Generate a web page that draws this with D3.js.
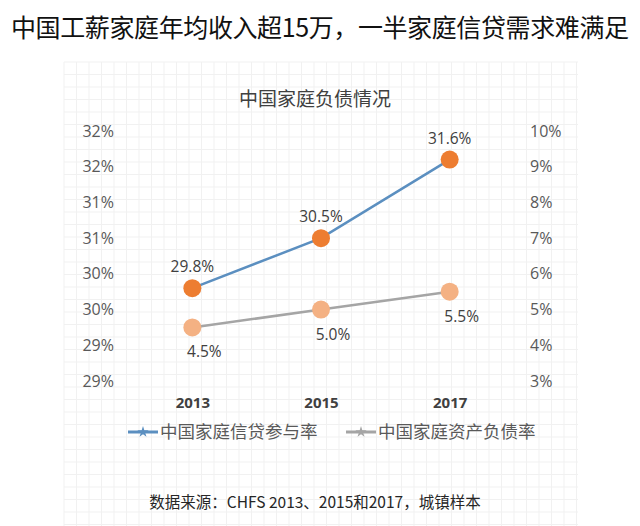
<!DOCTYPE html>
<html>
<head>
<meta charset="utf-8">
<script src="https://cdn.jsdelivr.net/npm/d3@7"></script>
<style>
    body { margin: 0; background: #fff; }
    svg { display: block; font-family: "Noto Sans CJK SC", "Noto Sans", sans-serif; }
</style>
</head>
<body>
<svg id="chart"></svg>
<script>
const years = ["2013", "2015", "2017"];
const creditRate = [29.8, 30.5, 31.6];   // 中国家庭信贷参与率, left axis
const debtRatio = [4.5, 5.0, 5.5];       // 中国家庭资产负债率, right axis
const leftTicks = [28.5, 29, 29.5, 30, 30.5, 31, 31.5, 32];
const leftTickLabels = ["29%", "29%", "30%", "30%", "31%", "31%", "32%", "32%"];
const rightTicks = [3, 4, 5, 6, 7, 8, 9, 10];
const seriesNames = ["中国家庭信贷参与率", "中国家庭资产负债率"];

const width = 640;
const height = 526;

const svg = d3.select("#chart")
    .attr("width", width)
    .attr("height", height);

/*page headline*/
svg.append("text")
    .attr("x", 320)
    .attr("y", 37)
    .attr("text-anchor", "middle")
    .attr("font-size", 25)
    .attr("textLength", 618)
    .attr("fill", "#111")
    .text("中国工薪家庭年均收入超15万，一半家庭信贷需求难满足");

/*grid paper behind the chart*/
const paper = { left: 64, right: 578, top: 62, bottom: 526 };
const grid = svg.append("g");
for (let gx = paper.left; gx <= paper.right; gx += 12.5) {
    grid.append("line")
        .attr("x1", gx).attr("x2", gx)
        .attr("y1", paper.top).attr("y2", paper.bottom)
        .attr("stroke", "#f1f1f1");
}
for (let gy = paper.top; gy <= paper.bottom; gy += 12.5) {
    grid.append("line")
        .attr("x1", paper.left).attr("x2", paper.right)
        .attr("y1", gy).attr("y2", gy)
        .attr("stroke", "#f1f1f1");
}

svg.append("text")
    .attr("x", 315)
    .attr("y", 106)
    .attr("text-anchor", "middle")
    .attr("font-size", 19)
    .attr("fill", "#404040")
    .text("中国家庭负债情况");

const x = d3.scalePoint()
    .domain(years)
    .range([128, 514])
    .padding(0.5);

const yLeft = d3.scaleLinear()
    .domain([28.5, 32])
    .range([381, 131]);

const yRight = d3.scaleLinear()
    .domain([3, 10])
    .range([381, 131]);

const numFont = "'Open Sans', 'Noto Sans', sans-serif";

const axisFont = (g) => {
    g.select(".domain").remove();
    g.selectAll(".tick line").remove();
    g.selectAll("text")
        .attr("font-size", 16)
        .attr("fill", "#595959")
        .attr("font-family", numFont);
};

svg.append("g")
    .attr("transform", "translate(114,0)")
    .call(d3.axisLeft(yLeft).tickValues(leftTicks).tickSize(0).tickPadding(0)
        .tickFormat((d, i) => leftTickLabels[i]))
    .call(axisFont);

svg.append("g")
    .attr("transform", "translate(530,0)")
    .call(d3.axisRight(yRight).tickValues(rightTicks).tickSize(0).tickPadding(0)
        .tickFormat((d) => d + "%"))
    .call(axisFont);

svg.append("g")
    .attr("transform", "translate(0,397)")
    .call(d3.axisBottom(x).tickSize(0).tickPadding(0))
    .call(axisFont)
    .call((g) => g.selectAll("text").attr("font-size", 15).attr("font-weight", "bold").attr("fill", "#404040"));

const creditData = years.map((y, i) => ({ year: y, value: creditRate[i] }));
const debtData = years.map((y, i) => ({ year: y, value: debtRatio[i] }));

svg.append("path")
    .datum(debtData)
    .attr("fill", "none")
    .attr("stroke", "#a5a5a5")
    .attr("stroke-width", 2.5)
    .attr("d", d3.line().x((d) => x(d.year)).y((d) => yRight(d.value)));

svg.append("path")
    .datum(creditData)
    .attr("fill", "none")
    .attr("stroke", "#5b8fc0")
    .attr("stroke-width", 2.5)
    .attr("d", d3.line().x((d) => x(d.year)).y((d) => yLeft(d.value)));

svg.selectAll(".debt-dot")
    .data(debtData)
    .enter().append("circle")
    .attr("cx", (d) => x(d.year))
    .attr("cy", (d) => yRight(d.value))
    .attr("r", 9)
    .attr("fill", "#f4b183");

svg.selectAll(".credit-dot")
    .data(creditData)
    .enter().append("circle")
    .attr("cx", (d) => x(d.year))
    .attr("cy", (d) => yLeft(d.value))
    .attr("r", 9)
    .attr("fill", "#ed7d31");

svg.selectAll(".credit-label")
    .data(creditData)
    .enter().append("text")
    .attr("x", (d) => x(d.year))
    .attr("y", (d) => yLeft(d.value) - 16)
    .attr("text-anchor", "middle")
    .attr("font-size", 15.5)
    .attr("font-family", numFont)
    .attr("fill", "#404040")
    .text((d) => d.value.toFixed(1) + "%");

svg.selectAll(".debt-label")
    .data(debtData)
    .enter().append("text")
    .attr("x", (d) => x(d.year) + 12)
    .attr("y", (d) => yRight(d.value) + 30)
    .attr("text-anchor", "middle")
    .attr("font-size", 15.5)
    .attr("font-family", numFont)
    .attr("fill", "#404040")
    .text((d) => d.value.toFixed(1) + "%");

/*legend*/
const legendColors = ["#5b8fc0", "#a5a5a5"];
const legendX = [128, 346];
seriesNames.forEach((name, i) => {
    const lg = svg.append("g").attr("transform", `translate(${[legendX[i], 432]})`);
    lg.append("line")
        .attr("x1", 0).attr("x2", 30)
        .attr("stroke", legendColors[i])
        .attr("stroke-width", 3);
    lg.append("path")
        .attr("transform", "translate(15,0)")
        .attr("d", d3.symbol().type(d3.symbolStar).size(40)())
        .attr("fill", legendColors[i]);
    lg.append("text")
        .attr("x", 32)
        .attr("y", 6)
        .attr("font-size", 17.5)
        .attr("fill", "#595959")
        .text(name);
});

svg.append("text")
    .attr("x", 315)
    .attr("y", 508)
    .attr("text-anchor", "middle")
    .attr("font-size", 15.5)
    .attr("fill", "#262626")
    .text("数据来源：CHFS 2013、2015和2017，城镇样本");
</script>
</body>
</html>
